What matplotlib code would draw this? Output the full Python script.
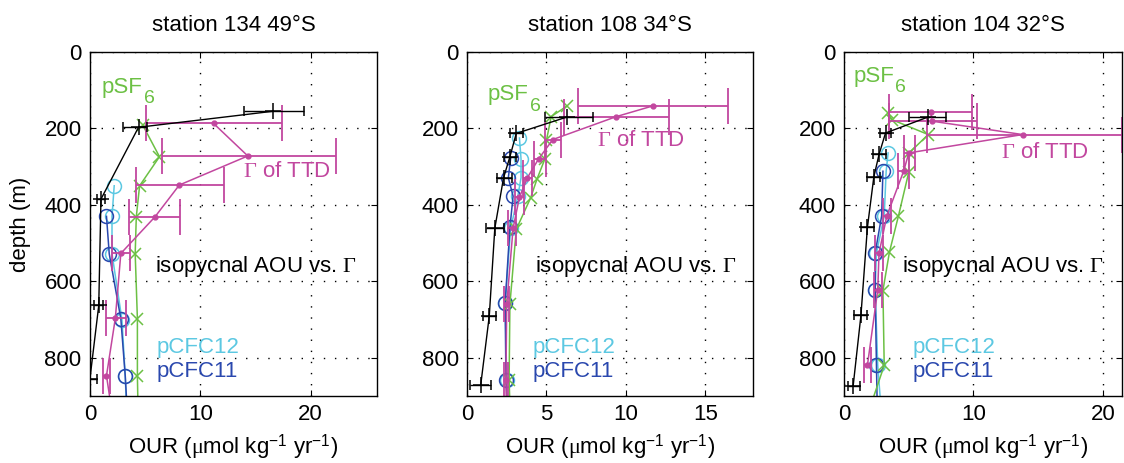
import numpy as np
import matplotlib.pyplot as plt

plt.rcParams['font.family'] = ['Liberation Sans', 'DejaVu Sans']
plt.rcParams['mathtext.fontset'] = 'custom'
plt.rcParams['mathtext.rm'] = 'Liberation Serif'
plt.rcParams['mathtext.it'] = 'Liberation Serif:italic'
plt.rcParams['mathtext.sf'] = 'Liberation Sans'
plt.rcParams['font.size'] = 16

titles = ['station 134 49°S', 'station 108 34°S', 'station 104 32°S']
xlims = [26, 18, 21.5]
xticks = [[0, 10, 20], [0, 5, 10, 15], [0, 10, 20]]
yticks = [0, 200, 400, 600, 800]

# isopycnal AOU vs Gamma (black, with error bars)
aou_depth = [[155, 197, 385, 663, 855],
             [170, 213, 274, 329, 461, 691, 872],
             [170, 212, 268, 326, 459, 689, 873]]
aou_our = [[16.6, 4.4, 1.0, 0.8, 0.0],
           [6.3, 3.1, 2.7, 2.3, 1.75, 1.4, 0.86],
           [6.5, 3.2, 2.7, 2.3, 1.8, 1.3, 0.7]]
aou_lo = [[14.0, 3.0, 0.6, 0.4, -0.4],
          [4.9, 2.7, 2.3, 1.9, 1.2, 1.0, 0.2],
          [5.0, 2.8, 2.2, 1.8, 1.3, 0.8, 0.3]]
aou_hi = [[19.4, 5.2, 1.4, 1.2, 0.6],
          [7.9, 3.5, 3.1, 2.8, 2.3, 1.8, 1.5],
          [7.9, 3.6, 3.2, 2.8, 2.3, 1.8, 1.2]]

# Gamma of TTD (pink, with error bars)
ttd_depth = [[187, 272, 348, 431, 527, 697, 847, 1000],
             [141, 169, 229, 280, 329, 380, 461, 660, 857, 1000],
             [158, 181, 216, 264, 312, 429, 526, 622, 820]]
ttd_our = [[11.2, 14.3, 8.1, 5.9, 2.8, 2.3, 1.5, 2.3],
           [11.7, 9.4, 5.4, 4.5, 3.8, 3.3, 2.9, 2.5, 2.45, 2.5],
           [6.7, 6.8, 13.8, 5.0, 4.6, 3.3, 2.7, 2.6, 1.8]]
ttd_lo = [[5.1, 6.5, 4.2, 3.5, 2.0, 1.5, 1.2, 2.3],
          [7.0, 6.1, 4.9, 4.2, 3.5, 3.0, 2.6, 2.3, 2.3, 2.5],
          [3.5, 3.5, 6.4, 4.65, 4.2, 3.0, 2.4, 2.3, 1.5]]
ttd_hi = [[17.4, 22.3, 12.1, 8.2, 3.6, 3.3, 1.8, 2.3],
          [16.4, 12.7, 5.9, 5.0, 4.1, 3.6, 3.1, 2.65, 2.6, 2.5],
          [9.9, 10.3, 21.5, 5.5, 5.0, 3.6, 3.0, 2.9, 2.1]]

# pSF6 (green)
sf6_depth = [[192, 274, 350, 431, 528, 698, 848, 1000],
             [141, 169, 231, 280, 333, 382, 464, 660, 857, 1000],
             [160, 177, 216, 265, 314, 429, 524, 624, 820, 1000]]
sf6_our = [[4.8, 6.3, 4.5, 4.2, 4.1, 4.3, 4.3, 4.4],
           [6.3, 5.3, 5.0, 4.9, 4.4, 4.0, 3.1, 2.7, 2.65, 2.75],
           [3.4, 3.7, 6.5, 5.0, 5.0, 4.2, 3.5, 3.0, 3.1, 1.3]]

# pCFC12 (cyan)
cfc12_depth = [[350, 430, 528, 700, 848, 1000],
               [225, 280, 329, 377, 461, 657, 857, 1000],
               [264, 312, 429, 526, 622, 820, 1000]]
cfc12_our = [[2.2, 2.0, 2.0, 2.9, 3.2, 3.4],
             [3.3, 3.4, 3.4, 3.2, 2.75, 2.4, 2.5, 2.5],
             [3.4, 3.25, 3.1, 2.5, 2.4, 2.6, 3.0]]

# pCFC11 (dark blue)
cfc11_depth = [[430, 528, 698, 848, 1000],
               [277, 329, 377, 459, 657, 857, 1000],
               [312, 429, 526, 622, 820, 1000]]
cfc11_our = [[1.5, 1.75, 2.8, 3.2, 3.5],
             [2.75, 2.6, 2.9, 2.7, 2.4, 2.45, 2.65],
             [3.0, 2.9, 2.4, 2.4, 2.5, 2.6]]

# label positions (x in OUR units, y in depth)
lab_sf6 = [(1.06, 107), (1.3, 126), (0.7, 78)]
lab_ttd = [(13.85, 326), (8.2, 246), (12.1, 278)]
lab_aou = [(5.9, 575), (4.25, 575), (4.5, 575)]
lab_cfc_x = [6.0, 4.15, 5.3]

black = '#000000'
pink = '#C2479F'
green = '#6CC044'
cyan = '#5CC8E2'
blue = '#2A48AE'

fig = plt.figure(figsize=(11.24, 4.63), dpi=100)
lefts = [0.080, 0.4155, 0.751]
widths = [0.2554, 0.2544, 0.2474]

for i in range(3):
    ax = fig.add_axes([lefts[i], 0.1447, widths[i], 0.743])

    ax.plot(cfc12_our[i], cfc12_depth[i], '-o', color=cyan, mfc='none',
            ms=10, lw=1.1, mew=1.1)
    ax.plot(cfc11_our[i], cfc11_depth[i], '-o', color=blue, mfc='none',
            ms=10, lw=1.1, mew=1.1)
    ax.plot(sf6_our[i], sf6_depth[i], '-x', color=green, ms=8, lw=1.1, mew=1.1)

    o = np.array(ttd_our[i])
    ax.errorbar(o, ttd_depth[i],
                xerr=[o - np.array(ttd_lo[i]), np.array(ttd_hi[i]) - o],
                fmt='-o', color=pink, ms=3.5, lw=1.1, elinewidth=1.3,
                capsize=13, capthick=1.3)

    a = np.array(aou_our[i])
    ax.errorbar(a, aou_depth[i],
                xerr=[a - np.array(aou_lo[i]), np.array(aou_hi[i]) - a],
                fmt='-+', color=black, ms=11, mew=1.1, lw=1.0,
                elinewidth=1.0, capsize=3.5, capthick=1.0)

    t = ax.text(lab_sf6[i][0], lab_sf6[i][1], 'pSF', color=green,
                va='baseline')
    ax.annotate('6', xy=(1, 0), xycoords=t, xytext=(1, 5.5),
                textcoords='offset points', va='top', ha='left',
                color=green, fontsize=14)
    ax.text(lab_ttd[i][0], lab_ttd[i][1], r'$\Gamma$ of TTD', color=pink,
            va='baseline')
    ax.text(lab_aou[i][0], lab_aou[i][1], r'isopycnal AOU vs. $\Gamma$',
            color=black, va='baseline')
    ax.text(lab_cfc_x[i], 787, 'pCFC12', color=cyan, va='baseline')
    ax.text(lab_cfc_x[i], 850, 'pCFC11', color=blue, va='baseline')

    ax.set_xlim(0, xlims[i])
    ax.set_ylim(900, 0)
    ax.set_xticks(xticks[i])
    ax.set_yticks(yticks)
    ax.grid(True, linestyle=(0, (1, 7)), color='black', lw=1.0)
    ax.tick_params(direction='in', top=True, right=True, length=4,
                   labelsize=16, pad=6)
    for s in ax.spines.values():
        s.set_linewidth(1.0)
    ax.set_title(titles[i], fontsize=16, pad=15)
    ax.set_xlabel(r'OUR ($\mathrm{\mu}$mol kg$^{\mathsf{-1}}$ yr$^{\mathsf{-1}}$)',
                  fontsize=16, labelpad=5)
    if i == 0:
        ax.set_ylabel('depth (m)', fontsize=16, labelpad=10)

fig.savefig('out.png', dpi=100)
